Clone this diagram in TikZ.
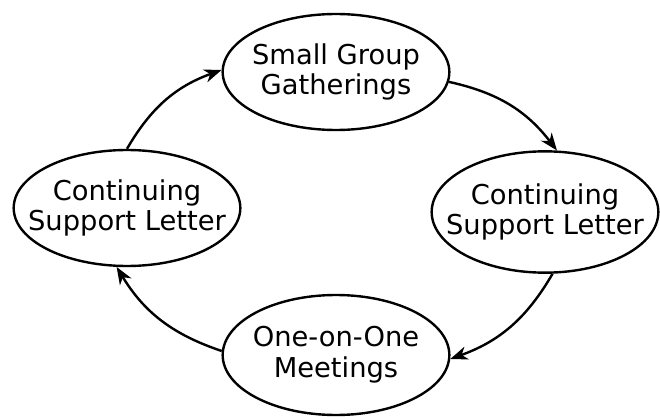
\documentclass[tikz,border=0pt]{standalone}
\usepackage{fontspec}
\setmainfont{DejaVu Sans}
\usetikzlibrary{shapes.geometric,arrows.meta}

\tikzset{every picture/.style={line width=1.8pt}}

\begin{document}
\begin{tikzpicture}[x=0.75pt,y=0.75pt,yscale=-1,xscale=1,
	stage/.style={ellipse, draw, inner xsep=-16pt, inner ysep=0pt, minimum width=170pt, minimum height=87pt, align=center, font=\fontsize{20.5}{23}\selectfont},
	flow/.style={-{Stealth[length=13pt,width=10pt,inset=4pt]}}]
	\path[use as bounding box] (0,0) rectangle (660,417);
	
	%Stages
	\node [stage] (gather) at (336,72) {Small Group\\Gatherings};
	\node [stage, minimum height=91pt] (supportR) at (545,212) {Continuing\\Support Letter};
	\node [stage, minimum height=90pt] (meet) at (336,355) {One-on-One\\Meetings};
	\node [stage] (supportL) at (127,208) {Continuing\\Support Letter};
	
	%Cycle
	\draw [flow] (gather.-5) to[bend right=20] (supportR.79);
	\draw [flow] (supportR.-83) to[bend right=20] (meet.-2);
	\draw [flow] (meet.178) to[bend right=20] (supportL.-100);
	\draw [flow] (supportL.90) to[bend right=20] (gather.179);
	
\end{tikzpicture}
\end{document}
